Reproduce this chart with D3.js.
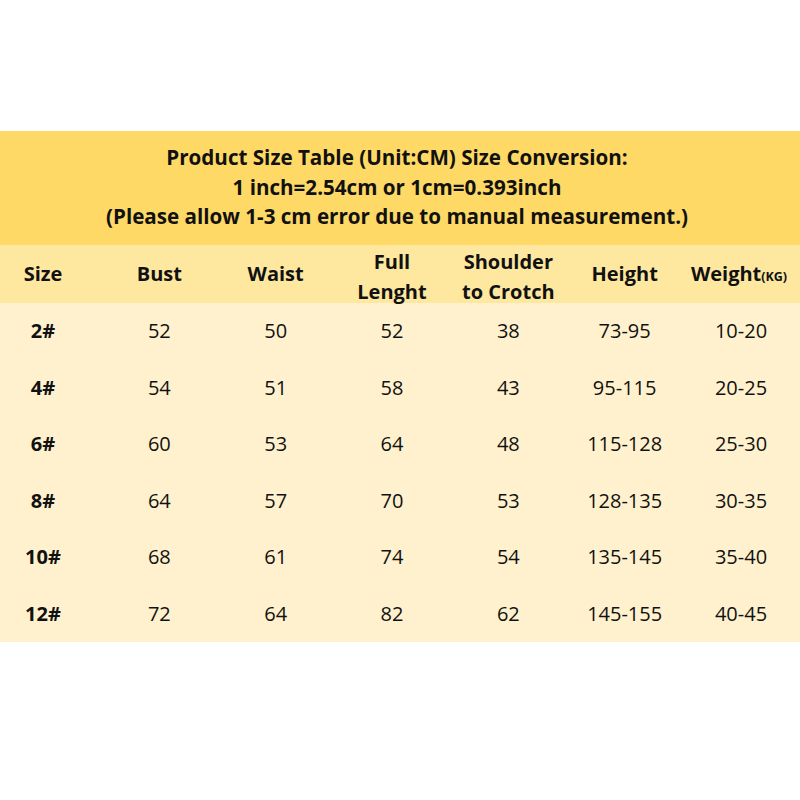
<!DOCTYPE html>
<html>
<head>
<meta charset="utf-8">
<script src="https://cdn.jsdelivr.net/npm/d3@7"></script>
<style>
  body { margin: 0; background: #fff; }
  text { font-family: "Open Sans", "Noto Sans", sans-serif; fill: #111; }
</style>
</head>
<body>
<div id="chart"></div>
<script>
const width = 800;
const height = 800;

// table data
const titleLines = [
    "Product Size Table (Unit:CM) Size Conversion:",
    "1 inch=2.54cm or 1cm=0.393inch",
    "(Please allow 1-3 cm error due to manual measurement.)"
];
const columns = ["Size", "Bust", "Waist", "Full Lenght", "Shoulder to Crotch", "Height", "Weight"];
const sizes = ["2#", "4#", "6#", "8#", "10#", "12#"];
const bust = [52, 54, 60, 64, 68, 72];
const waist = [50, 51, 53, 57, 61, 64];
const fullLength = [52, 58, 64, 70, 74, 82];
const shoulder = [38, 43, 48, 53, 54, 62];
const heightRange = ["73-95", "95-115", "115-128", "128-135", "135-145", "145-155"];
const weightRange = ["10-20", "20-25", "25-30", "30-35", "35-40", "40-45"];

const rows = sizes.map((s, i) => [s, bust[i], waist[i], fullLength[i], shoulder[i], heightRange[i], weightRange[i]]);

const svg = d3.select("#chart")
    .append("svg")
    .attr("width", width)
    .attr("height", height);

// band positions
const titleTop = 131, headTop = 245, bodyTop = 303, bodyBottom = 642;

const x = d3.scalePoint()
    .domain(columns)
    .range([43, 741]);

const y = d3.scaleBand()
    .domain(sizes)
    .range([bodyTop, bodyBottom]);

// backgrounds
svg.append("rect")
    .attr("x", 0).attr("y", titleTop)
    .attr("width", width).attr("height", headTop - titleTop)
    .attr("fill", "#fed966");

svg.append("rect")
    .attr("x", 0).attr("y", headTop)
    .attr("width", width).attr("height", bodyTop - headTop)
    .attr("fill", "#fee79f");

svg.append("rect")
    .attr("x", 0).attr("y", bodyTop)
    .attr("width", width).attr("height", bodyBottom - bodyTop)
    .attr("fill", "#fff1cd");

// title
svg.append("g")
    .selectAll("text")
    .data(titleLines)
    .join("text")
    .attr("x", 397)
    .attr("y", (d, i) => 165 + i * 29.5)
    .attr("text-anchor", "middle")
    .style("font-size", "20.6px")
    .style("font-weight", "bold")
    .text(d => d);

// header
const head = svg.append("g")
    .selectAll("text")
    .data(columns)
    .join("text")
    .attr("x", d => x(d))
    .attr("text-anchor", "middle")
    .style("font-size", "20px")
    .style("font-weight", "bold");

head.each(function(d) {
    const t = d3.select(this);
    if (d === "Full Lenght" || d === "Shoulder to Crotch") {
        const parts = d === "Full Lenght" ? ["Full", "Lenght"] : ["Shoulder", "to Crotch"];
        t.selectAll("tspan")
            .data(parts)
            .join("tspan")
            .attr("x", x(d))
            .attr("y", (p, i) => 269 + i * 30)
            .text(p => p);
    } else {
        t.attr("y", 281).text(d);
        if (d === "Weight") {
            t.attr("x", x(d) - 2);
            t.append("tspan")
                .style("font-size", "12.5px")
                .text("(KG)");
        }
    }
});

// body
const rowG = svg.append("g")
    .selectAll("g")
    .data(rows)
    .join("g")
    .attr("transform", (d, i) => `translate(0,${y(sizes[i]) + y.bandwidth() / 2 + 7})`);

rowG.selectAll("text")
    .data(d => d.map((v, j) => ({ v, col: columns[j], j })))
    .join("text")
    .attr("x", d => x(d.col))
    .attr("text-anchor", "middle")
    .style("font-size", "20px")
    .style("font-weight", d => d.j === 0 ? "bold" : "normal")
    .text(d => d.v);
</script>
</body>
</html>
